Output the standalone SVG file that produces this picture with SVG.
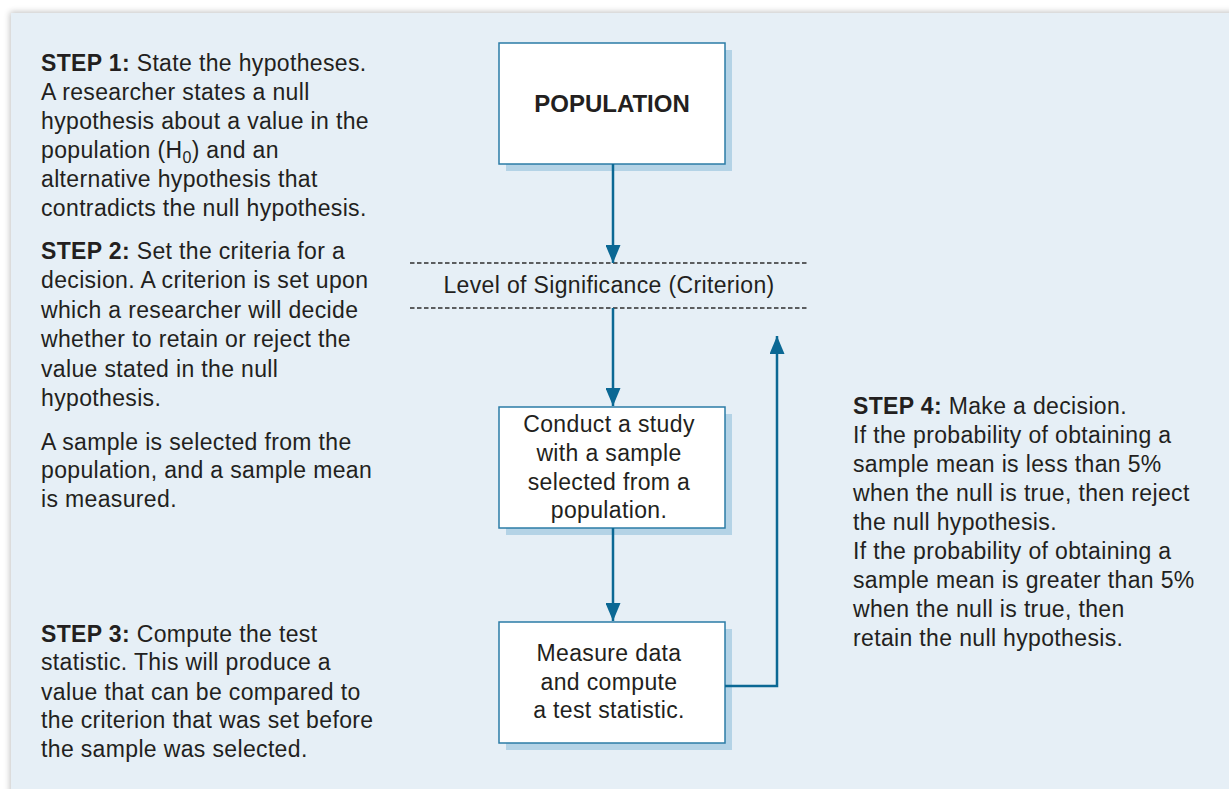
<svg xmlns="http://www.w3.org/2000/svg" width="1229" height="789" viewBox="0 0 1229 789">
<defs>
<filter id="sh" x="-5%" y="-5%" width="110%" height="110%">
<feGaussianBlur in="SourceAlpha" stdDeviation="3"/>
<feOffset dx="-1" dy="-1"/>
<feComponentTransfer><feFuncA type="linear" slope="0.25"/></feComponentTransfer>
<feMerge><feMergeNode/><feMergeNode in="SourceGraphic"/></feMerge>
</filter>
<marker id="arr" viewBox="0 0 18 15" refX="18" refY="7.5" markerWidth="18" markerHeight="15" markerUnits="userSpaceOnUse" orient="auto">
<path d="M0,0 L18,7.5 L0,15 Z" fill="#0b6894"/>
</marker>
</defs>
<style>
text{font-family:"Liberation Sans",Arial,sans-serif;fill:#231f20}
.t{font-size:23px;letter-spacing:0.35px}
.b{font-weight:bold}
.c{text-anchor:middle}
.box{fill:#ffffff;stroke:#2b7ca6;stroke-width:1.5}
.shadow{fill:#b4d3e6}
.conn{fill:none;stroke:#0b6894;stroke-width:2.5}
.dash{stroke:#2e2e2e;stroke-width:1.6;stroke-dasharray:4.5 2.5}
</style>
<rect x="0" y="0" width="1229" height="789" fill="#ffffff"/>
<rect x="11" y="13" width="1230" height="790" fill="#e6eff6" filter="url(#sh)"/>

<g id="step1">
<text class="t" x="41" y="71"><tspan class="b">STEP 1:</tspan> State the hypotheses.</text>
<text class="t" x="41" y="100">A researcher states a null</text>
<text class="t" x="41" y="129">hypothesis about a value in the</text>
<text class="t" x="41" y="158">population (H<tspan font-size="16" dy="5">0</tspan><tspan dy="-5">) and an</tspan></text>
<text class="t" x="41" y="187">alternative hypothesis that</text>
<text class="t" x="41" y="216">contradicts the null hypothesis.</text>
</g>

<g id="step2">
<text class="t" x="41" y="259"><tspan class="b">STEP 2:</tspan> Set the criteria for a</text>
<text class="t" x="41" y="288">decision. A criterion is set upon</text>
<text class="t" x="41" y="318">which a researcher will decide</text>
<text class="t" x="41" y="347">whether to retain or reject the</text>
<text class="t" x="41" y="377">value stated in the null</text>
<text class="t" x="41" y="406">hypothesis.</text>
<text class="t" x="41" y="450">A sample is selected from the</text>
<text class="t" x="41" y="478">population, and a sample mean</text>
<text class="t" x="41" y="507">is measured.</text>
</g>

<g id="step3">
<text class="t" x="41" y="642"><tspan class="b">STEP 3:</tspan> Compute the test</text>
<text class="t" x="41" y="670">statistic. This will produce a</text>
<text class="t" x="41" y="700">value that can be compared to</text>
<text class="t" x="41" y="728">the criterion that was set before</text>
<text class="t" x="41" y="757">the sample was selected.</text>
</g>

<g id="step4">
<text class="t" x="853" y="414"><tspan class="b">STEP 4:</tspan> Make a decision.</text>
<text class="t" x="853" y="443">If the probability of obtaining a</text>
<text class="t" x="853" y="472">sample mean is less than 5%</text>
<text class="t" x="853" y="501">when the null is true, then reject</text>
<text class="t" x="853" y="530">the null hypothesis.</text>
<text class="t" x="853" y="559">If the probability of obtaining a</text>
<text class="t" x="853" y="588">sample mean is greater than 5%</text>
<text class="t" x="853" y="617">when the null is true, then</text>
<text class="t" x="853" y="646">retain the null hypothesis.</text>
</g>

<g id="population">
<rect class="shadow" x="506" y="50" width="226" height="121"/>
<rect class="box" x="499" y="43" width="226" height="121"/>
<text class="t b c" x="612" y="112" style="font-size:24px;letter-spacing:0">POPULATION</text>
</g>

<g id="criterion">
<line class="dash" x1="410" y1="263" x2="808" y2="263"/>
<line class="dash" x1="410" y1="308" x2="808" y2="308"/>
<text class="t c" x="609" y="293">Level of Significance (Criterion)</text>
</g>

<g id="study">
<rect class="shadow" x="506" y="414" width="226" height="121"/>
<rect class="box" x="499" y="407" width="226" height="121"/>
<text class="t c" x="609" y="432">Conduct a study</text>
<text class="t c" x="609" y="461">with a sample</text>
<text class="t c" x="609" y="490">selected from a</text>
<text class="t c" x="609" y="518">population.</text>
</g>

<g id="measure">
<rect class="shadow" x="506" y="629" width="226" height="121"/>
<rect class="box" x="499" y="622" width="226" height="121"/>
<text class="t c" x="609" y="661">Measure data</text>
<text class="t c" x="609" y="690">and compute</text>
<text class="t c" x="609" y="718">a test statistic.</text>
</g>

<g id="connectors">
<line class="conn" x1="613" y1="164" x2="613" y2="263" marker-end="url(#arr)"/>
<line class="conn" x1="613" y1="308" x2="613" y2="406" marker-end="url(#arr)"/>
<line class="conn" x1="613" y1="528" x2="613" y2="621" marker-end="url(#arr)"/>
<polyline class="conn" points="725,686 777,686 777,336" marker-end="url(#arr)"/>
</g>
</svg>
